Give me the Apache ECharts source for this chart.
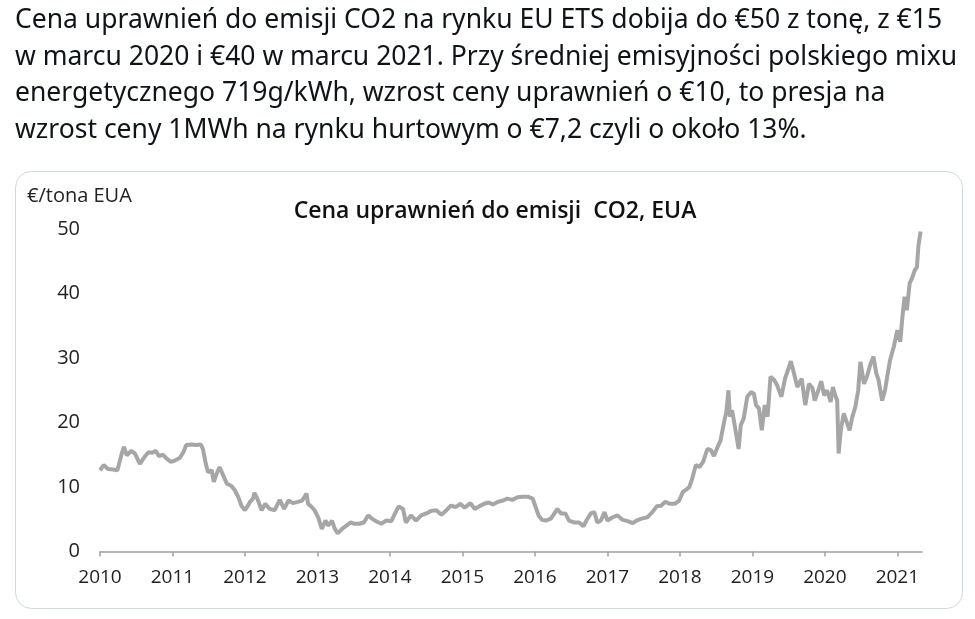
<!DOCTYPE html>
<html>
<head>
<meta charset="utf-8">
<script src="https://cdn.jsdelivr.net/npm/echarts@6/dist/echarts.min.js"></script>
<style>
  html, body { margin: 0; padding: 0; background: #fff; }
  #main { width: 975px; height: 619px; }
</style>
</head>
<body>
<div id="main"></div>
<script type="text/javascript">
// tweet text, one entry per printed line
var tweetLines = [
  'Cena uprawnień do emisji CO2 na rynku EU ETS dobija do €50 z tonę, z €15',
  'w marcu 2020 i €40 w marcu 2021. Przy średniej emisyjności polskiego mixu',
  'energetycznego 719g/kWh, wzrost ceny uprawnień o €10, to presja na',
  'wzrost ceny 1MWh na rynku hurtowym o €7,2 czyli o około 13%.'
];

var yearTicks = [2010, 2011, 2012, 2013, 2014, 2015, 2016, 2017, 2018, 2019, 2020, 2021];
var priceTicks = [0, 10, 20, 30, 40, 50];

// time as decimal year
var t = [
  2010.00, 2010.05, 2010.11, 2010.18, 2010.24, 2010.30, 2010.33, 2010.37, 2010.43, 2010.48,
  2010.55, 2010.61, 2010.67, 2010.72, 2010.77, 2010.81, 2010.87, 2010.92, 2010.98,
  2011.03, 2011.10, 2011.15, 2011.19, 2011.26, 2011.33, 2011.39, 2011.42, 2011.46, 2011.49,
  2011.54, 2011.57, 2011.61, 2011.65, 2011.70, 2011.75, 2011.81, 2011.86, 2011.91, 2011.95,
  2012.00, 2012.04, 2012.07, 2012.11, 2012.13, 2012.17, 2012.23, 2012.28, 2012.34, 2012.41,
  2012.48, 2012.54, 2012.60, 2012.66, 2012.73, 2012.79, 2012.85, 2012.87, 2012.92, 2012.96,
  2013.01, 2013.06, 2013.11, 2013.15, 2013.20, 2013.24, 2013.28, 2013.34, 2013.40, 2013.46,
  2013.51, 2013.58, 2013.64, 2013.70, 2013.75, 2013.81, 2013.88, 2013.95,
  2014.02, 2014.07, 2014.12, 2014.18, 2014.22, 2014.29, 2014.36, 2014.43, 2014.50, 2014.57,
  2014.64, 2014.71, 2014.78, 2014.84, 2014.91, 2014.97,
  2015.03, 2015.11, 2015.17, 2015.23, 2015.30, 2015.36, 2015.42, 2015.49, 2015.56, 2015.62,
  2015.69, 2015.76, 2015.83, 2015.90, 2015.97,
  2016.01, 2016.05, 2016.10, 2016.15, 2016.22, 2016.28, 2016.31, 2016.36, 2016.42, 2016.47,
  2016.54, 2016.61, 2016.67, 2016.71, 2016.77, 2016.82, 2016.86, 2016.91, 2016.96,
  2017.00, 2017.07, 2017.14, 2017.21, 2017.28, 2017.35, 2017.40, 2017.47, 2017.55, 2017.62,
  2017.68, 2017.74, 2017.80, 2017.86, 2017.93, 2017.99,
  2018.04, 2018.10, 2018.13, 2018.17, 2018.22, 2018.27, 2018.32, 2018.38, 2018.43, 2018.47,
  2018.52, 2018.56, 2018.61, 2018.64, 2018.67, 2018.69, 2018.72, 2018.76, 2018.81, 2018.84,
  2018.88, 2018.93, 2018.98,
  2019.02, 2019.05, 2019.09, 2019.13, 2019.17, 2019.21, 2019.25, 2019.30, 2019.34, 2019.40,
  2019.45, 2019.49, 2019.53, 2019.57, 2019.62, 2019.68, 2019.73, 2019.78, 2019.83, 2019.86,
  2019.91, 2019.95, 2019.99,
  2020.03, 2020.08, 2020.11, 2020.15, 2020.17, 2020.19, 2020.22, 2020.26, 2020.31, 2020.34,
  2020.38, 2020.42, 2020.46, 2020.49, 2020.54, 2020.58, 2020.63, 2020.67, 2020.71, 2020.74,
  2020.79, 2020.83, 2020.86, 2020.90, 2020.95,
  2021.00, 2021.04, 2021.07, 2021.10, 2021.13, 2021.17, 2021.20, 2021.24, 2021.27, 2021.29,
  2021.32
];

// EUA price, EUR per tonne
var eua = [
  12.6, 13.4, 12.8, 12.7, 12.6, 15.2, 16.2, 14.9, 15.6, 15.2,
  13.6, 14.6, 15.4, 15.3, 15.6, 14.8, 15.0, 14.4, 13.9,
  14.1, 14.5, 15.4, 16.5, 16.6, 16.5, 16.6, 15.9, 13.6, 12.3,
  12.6, 10.8, 12.1, 13.1, 11.8, 10.5, 10.2, 9.5, 8.4, 7.1,
  6.4, 7.1, 7.7, 8.2, 9.1, 8.2, 6.4, 7.4, 6.6, 6.4,
  8.0, 6.6, 7.9, 7.5, 7.7, 7.9, 9.0, 7.4, 6.9, 6.4,
  5.3, 3.5, 4.8, 4.0, 4.8, 3.5, 2.8, 3.5, 4.0, 4.5,
  4.3, 4.3, 4.5, 5.6, 5.1, 4.7, 4.3, 4.8,
  4.7, 5.9, 7.0, 6.6, 4.5, 5.6, 4.8, 5.6, 5.9, 6.3,
  6.4, 5.7, 6.4, 7.1, 6.9, 7.4,
  6.8, 7.5, 6.6, 7.0, 7.4, 7.6, 7.3, 7.7, 7.9, 8.2,
  8.0, 8.4, 8.5, 8.5, 8.2,
  6.9, 5.6, 4.9, 4.8, 5.1, 6.1, 6.6, 5.9, 5.9, 4.8,
  4.5, 4.5, 3.9, 4.8, 5.9, 6.1, 4.5, 4.8, 6.1,
  4.8, 5.3, 5.6, 4.9, 4.7, 4.4, 4.8, 5.1, 5.3, 6.1,
  7.0, 7.1, 7.7, 7.4, 7.4, 7.9,
  9.2, 9.7, 10.0, 11.3, 13.4, 13.1, 13.9, 15.9, 15.7, 14.8,
  16.2, 17.2, 20.1, 21.6, 25.0, 20.9, 21.9, 19.3, 15.9, 19.6,
  20.6, 24.0, 24.7,
  24.5, 22.7, 22.2, 18.8, 22.7, 20.9, 27.1, 26.6, 25.8, 24.0,
  26.8, 28.1, 29.5, 27.8, 25.5, 26.8, 22.7, 26.0, 25.3, 23.4,
  25.0, 26.4, 24.2,
  25.0, 23.2, 25.5, 24.0, 23.4, 15.2, 18.8, 21.4, 19.8, 18.8,
  20.9, 22.4, 25.0, 29.4, 26.0, 27.1, 29.1, 30.2, 27.6, 26.6,
  23.4, 25.0, 27.1, 29.7, 31.7,
  34.3, 32.5, 36.4, 39.5, 37.4, 41.6, 42.3, 43.6, 44.1, 47.3,
  49.6
];

var seriesData = t.map(function (x, i) { return [x, eua[i]]; });

var myChart = echarts.init(document.getElementById('main'));

var tweetGraphics = tweetLines.map(function (line, i) {
  return {
    type: 'text',
    left: 15,
    top: 7 + i * 36.5,
    style: {
      text: line,
      font: '26.5px "Noto Sans", "Open Sans", sans-serif',
      fill: '#0f1419'
    }
  };
});

var option = {
  backgroundColor: '#ffffff',
  animation: false,
  graphic: [
    { // card round the chart
      type: 'rect',
      shape: { x: 15.5, y: 171.5, width: 947, height: 437, r: 16 },
      style: { fill: '#ffffff', stroke: '#cfd9de', lineWidth: 1 },
      z: -1
    },
    {
      type: 'text',
      left: 27,
      top: 186,
      style: {
        text: '€/tona EUA',
        font: '20px "Open Sans", sans-serif',
        fill: '#222222'
      }
    }
  ].concat(tweetGraphics),
  title: {
    text: 'Cena uprawnień do emisji  CO2, EUA',
    left: 490,
    textAlign: 'center',
    top: 195,
    textStyle: {
      fontFamily: '"Open Sans", sans-serif',
      fontSize: 23,
      fontWeight: 600,
      color: '#111111'
    }
  },
  grid: { left: 100, right: 53, top: 229, bottom: 67.5 },
  xAxis: {
    type: 'value',
    min: 2010,
    max: 2021.34,
    interval: 1,
    splitLine: { show: false },
    axisLine: { show: true, lineStyle: { color: '#a0a0a0', width: 1.5 } },
    axisTick: {
      show: true, inside: false, length: 5,
      customValues: yearTicks,
      lineStyle: { color: '#a0a0a0', width: 1.5 }
    },
    axisLabel: {
      customValues: yearTicks,
      margin: 17,
      fontFamily: '"Open Sans", sans-serif',
      fontSize: 19,
      color: '#222222',
      formatter: function (v) { return String(Math.round(v)); }
    }
  },
  yAxis: {
    type: 'value',
    min: 0,
    max: 50,
    interval: 10,
    splitLine: { show: false },
    axisLine: { show: false },
    axisTick: { show: false },
    axisLabel: {
      customValues: priceTicks,
      margin: 20,
      fontFamily: '"Open Sans", sans-serif',
      fontSize: 20,
      color: '#222222'
    }
  },
  series: [{
    name: 'EUA',
    type: 'line',
    data: seriesData,
    showSymbol: false,
    symbol: 'none',
    lineStyle: { color: '#a6a6a6', width: 4 },
    z: 3
  }]
};

myChart.setOption(option);
</script>
</body>
</html>
